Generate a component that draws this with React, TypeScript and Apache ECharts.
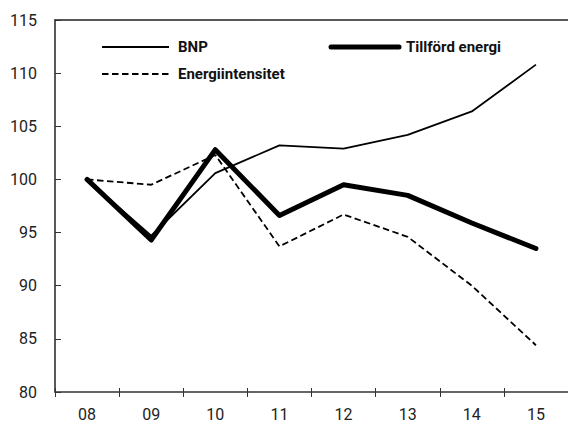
import React, { useEffect, useRef } from "react";
import * as echarts from "echarts";

const categories = ["08", "09", "10", "11", "12", "13", "14", "15"];
const bnp = [100, 94.7, 100.6, 103.2, 102.9, 104.2, 106.4, 110.8];
const tillford = [100, 94.3, 102.8, 96.6, 99.5, 98.5, 95.9, 93.5];
const energiintensitet = [100, 99.5, 102.3, 93.7, 96.7, 94.6, 90.0, 84.4];
const seriesNames = ["BNP", "Tillförd energi", "Energiintensitet"];
const yMin = 80;
const yMax = 115;
const yStep = 5;

const FONT = "Roboto, 'DejaVu Sans', sans-serif";

export default function App() {
  const ref = useRef<HTMLDivElement>(null);
  useEffect(() => {
    if (!ref.current) return;
    const chart = echarts.init(ref.current, undefined, { renderer: "svg" });
    const legendFont = { fontFamily: FONT, fontSize: 15, fontWeight: "bold", fill: "#111" };
    const styles = [
      { stroke: "#000", lineWidth: 1.8 },
      { stroke: "#000", lineWidth: 5, lineCap: "round" },
      { stroke: "#000", lineWidth: 1.8, lineDash: [6.5, 3.5] },
    ];
    const legendPos = [
      { x1: 102, x2: 169, y: 47, tx: 178 },
      { x1: 331, x2: 399, y: 47, tx: 406 },
      { x1: 102, x2: 169, y: 74, tx: 178 },
    ];
    const graphic: any[] = [];
    legendPos.forEach((p, i) => {
      graphic.push({
        type: "line",
        shape: { x1: p.x1, y1: p.y, x2: p.x2, y2: p.y },
        style: styles[i],
        silent: true,
      });
      graphic.push({
        type: "text",
        x: p.tx,
        y: p.y,
        style: { text: seriesNames[i], ...legendFont, verticalAlign: "middle", align: "left" },
        silent: true,
      });
    });
    chart.setOption({
      animation: false,
      backgroundColor: "#fff",
      grid: { left: 55, top: 20, width: 518, height: 372, containLabel: false },
      graphic,
      xAxis: [
        {
          type: "category",
          data: categories,
          position: "bottom",
          boundaryGap: true,
          axisLine: { show: true, lineStyle: { color: "#333", width: 1.5 } },
          axisTick: { show: true, length: 5, inside: false, lineStyle: { color: "#333", width: 1 } },
          axisLabel: { fontFamily: FONT, fontSize: 16, color: "#222", margin: 14 },
          splitLine: { show: false },
        },
        {
          type: "category",
          data: categories,
          position: "bottom",
          boundaryGap: true,
          axisLine: { show: false },
          axisTick: { show: true, length: 4, inside: true, lineStyle: { color: "#333", width: 1 } },
          axisLabel: { show: false },
          splitLine: { show: false },
        },
        {
          type: "category",
          data: categories,
          position: "top",
          axisLine: { show: true, lineStyle: { color: "#222", width: 1.5 } },
          axisTick: { show: false },
          axisLabel: { show: false },
          splitLine: { show: false },
        },
      ],
      yAxis: {
        type: "value",
        min: yMin,
        max: yMax,
        interval: yStep,
        axisLine: { show: true, lineStyle: { color: "#222", width: 1.5 } },
        axisTick: { show: true, inside: true, length: 6, lineStyle: { color: "#333" } },
        axisLabel: { fontFamily: FONT, fontSize: 16, color: "#222", margin: 18 },
        splitLine: { show: false },
      },
      series: [
        {
          name: seriesNames[0],
          type: "line",
          data: bnp,
          symbol: "none",
          color: "#000",
          lineStyle: { color: "#000", width: 1.8 },
        },
        {
          name: seriesNames[1],
          type: "line",
          data: tillford,
          symbol: "none",
          color: "#000",
          lineStyle: { color: "#000", width: 5, cap: "round", join: "round" },
        },
        {
          name: seriesNames[2],
          type: "line",
          data: energiintensitet,
          symbol: "none",
          color: "#000",
          lineStyle: { color: "#000", width: 1.8, type: [6.5, 3.5] },
        },
      ],
    });
    return () => chart.dispose();
  }, []);
  return (
    <div
      ref={ref}
      style={{ position: "fixed", left: 0, top: 0, width: 568, height: 423 }}
    />
  );
}
